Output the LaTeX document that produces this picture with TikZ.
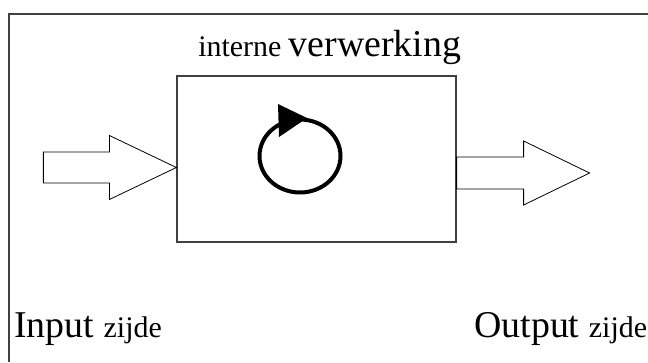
\documentclass[tikz,border=0pt]{standalone}
\usepackage{fontspec}
\setmainfont{Liberation Serif}
\usetikzlibrary{positioning}

\newcommand{\grootfont}{\fontsize{38}{40}\selectfont}
\newcommand{\kleinfont}{\fontsize{30}{32}\selectfont}

\begin{document}
\begin{tikzpicture}[
		x = 1bp, y = -1bp, % pixel grid, y runs down
		semithick % line style
		]
		
		\tikzstyle{every node}=[
		inner sep = 0pt,
		anchor = base west
		]
		\tikzstyle{blok}=[
		draw = black!75,
		line width = 1.2bp,
		minimum width = 279bp,
		minimum height = 166bp,
		anchor = center
		]
		\tikzstyle{pijl}=[
		draw = black,
		line width = 0.8bp,
		fill = white
		]
		
		\useasboundingbox (0,0) rectangle (648,362);
		\draw[black!75, line width = 1.5bp] (9,362) -- (9,14) -- (648,14);
		
		\node[blok] (proces) at (316.5,159) {};
		\node (titel) at (198,56) {\kleinfont interne \grootfont verwerking};
		
		\coordinate (in) at (proces.west |- 0,167.5);
		\coordinate (uit) at (proces.east |- 0,173);
		
		% input arrow
		\draw[pijl] (in) -- ++(-67,-32) -- ++(0,16.5) -- ++(-66,0) -- ++(0,31) -- ++(66,0) -- ++(0,16.5) -- cycle;
		% output arrow
		\draw[pijl] (uit) ++(0,-16) -- ++(67,0) -- ++(0,-16) -- ++(66,32) -- ++(-66,32) -- ++(0,-16) -- ++(-67,0) -- cycle;
		
		% loop in the box
		\draw[line width = 4bp] (300,156) ellipse [x radius = 40.5bp, y radius = 36.5bp];
		\fill (278,104) -- (279,137) -- (307,118) -- cycle;
		
		\node (invoer) at (14,337) {\grootfont Input \kleinfont zijde};
		\node (uitvoer) at (474,337) {\grootfont Output \kleinfont zijde};
		
		\end{tikzpicture}
\end{document}
